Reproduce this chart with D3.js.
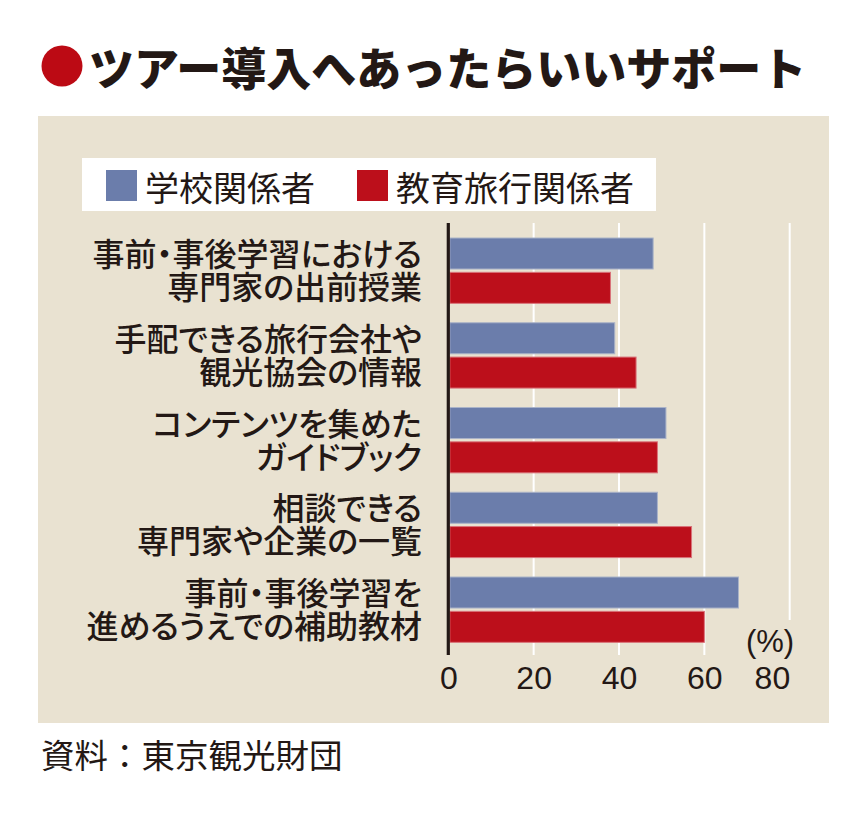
<!DOCTYPE html>
<html>
<head>
<meta charset="utf-8">
<script src="https://cdn.jsdelivr.net/npm/d3@7"></script>
<style>
  html, body { margin: 0; padding: 0; background: #fff; }
  svg { display: block; }
  .jp { font-family: "Noto Sans CJK JP", "Noto Sans", sans-serif; }
  .palt { font-feature-settings: "palt"; }
  .num { font-family: "Liberation Sans", Arial, sans-serif; }
</style>
</head>
<body>
<svg id="chart" width="868" height="813"></svg>
<script>
// ---- data ----
const title = "ツアー導入へあったらいいサポート";
const categories = [
  "事前・事後学習における\n専門家の出前授業",
  "手配できる旅行会社や\n観光協会の情報",
  "コンテンツを集めた\nガイドブック",
  "相談できる\n専門家や企業の一覧",
  "事前・事後学習を\n進めるうえでの補助教材"
];
const seriesNames = ["学校関係者", "教育旅行関係者"];
const schoolValues = [48, 39, 51, 49, 68];
const travelValues = [38, 44, 49, 57, 60];
const tickValues = [0, 20, 40, 60, 80];
const unitLabel = "(%)";
const sourceText = "資料：東京観光財団";

// ---- styles ----
const colors = ["#6b7dab", "#bc0f1b"];
const strokes = ["#aab3c8", "#d9737a"];
const ink = "#231815";
const panelFill = "#e9e2d1";

const svg = d3.select("#chart");
const W = 868, H = 813;
svg.append("rect").attr("width", W).attr("height", H).attr("fill", "#fff");

// title
svg.append("circle").attr("cx", 62).attr("cy", 66).attr("r", 20.5).attr("fill", "#bc0a14");
svg.append("text").attr("class", "jp")
  .attr("x", 89).attr("y", 66)
  .attr("dominant-baseline", "central")
  .attr("font-size", 45).attr("font-weight", 900)
  .attr("fill", ink).text(title);

// panel
svg.append("rect").attr("x", 38).attr("y", 116).attr("width", 791).attr("height", 607)
  .attr("fill", panelFill);

// legend
svg.append("rect").attr("x", 82).attr("y", 158).attr("width", 574).attr("height", 53).attr("fill", "#fff");
const legendX = [106, 357];
seriesNames.forEach((name, i) => {
  svg.append("rect").attr("x", legendX[i]).attr("y", 170).attr("width", 31).attr("height", 31)
    .attr("fill", colors[i]);
  svg.append("text").attr("class", "jp")
    .attr("x", legendX[i] + 39).attr("y", 186)
    .attr("dominant-baseline", "central")
    .attr("font-size", 34).attr("fill", ink).text(name);
});

// scales
const x = d3.scaleLinear().domain([0, 80]).range([448.3, 789.7]);
const step = 84.75, pIn = 0.229;
const y = d3.scaleBand().domain(categories)
  .range([238 - step * pIn / 2, 238 - step * pIn / 2 + step * 5])
  .paddingInner(pIn).paddingOuter(pIn / 2);
const ySub = d3.scaleBand().domain([0, 1]).range([0, y.bandwidth()]).paddingInner(0.096);

const gridTop = 223, gridBottom = 655;

// gridlines
svg.append("g").selectAll("line").data(tickValues.filter(d => d > 0)).join("line")
  .attr("x1", d => x(d)).attr("x2", d => x(d))
  .attr("y1", gridTop)
  .attr("y2", (d, i, arr) => i === arr.length - 1 ? 620 : gridBottom)
  .attr("stroke", "#fff").attr("stroke-width", 2);

// bars
const seriesData = [schoolValues, travelValues];
categories.forEach((cat, ci) => {
  seriesData.forEach((vals, si) => {
    svg.append("rect")
      .attr("x", x(0) + 1.5)
      .attr("y", y(cat) + ySub(si))
      .attr("width", x(vals[ci]) - x(0) - 1.5)
      .attr("height", ySub.bandwidth())
      .attr("fill", colors[si])
      .attr("stroke", strokes[si]).attr("stroke-width", 1);
  });
});

// zero axis line
svg.append("line").attr("x1", x(0)).attr("x2", x(0)).attr("y1", gridTop).attr("y2", gridBottom)
  .attr("stroke", ink).attr("stroke-width", 3.2);

// category labels
categories.forEach(cat => {
  const lines = cat.split("\n");
  const cy = y(cat) + y.bandwidth() / 2 - 2;
  const lh = 33;
  const t = svg.append("text").attr("class", "jp palt")
    .attr("text-anchor", "end").attr("font-size", 32).attr("font-weight", 500)
    .attr("fill", ink);
  lines.forEach((ln, i) => {
    t.append("tspan").attr("x", 422)
      .attr("y", cy + (i - (lines.length - 1) / 2) * lh)
      .attr("dominant-baseline", "central")
      .text(ln);
  });
});

// x tick labels
const axis = d3.axisBottom(x).tickValues(tickValues).tickSize(0).tickPadding(0);
const gAxis = svg.append("g").attr("transform", "translate(0,666)").call(axis);
gAxis.select(".domain").remove();
gAxis.selectAll("text").attr("class", "num")
  .attr("font-size", 32).attr("fill", ink)
  .attr("dy", "0.72em").attr("y", 0)
  .attr("text-anchor", (d, i) => i === tickValues.length - 1 ? "end" : "middle");
gAxis.attr("font-family", null).attr("font-size", null);

// unit label
svg.append("text").attr("class", "num")
  .attr("x", 770).attr("y", 652).attr("text-anchor", "middle")
  .attr("font-size", 31).attr("fill", ink).text(unitLabel);

// source
svg.append("text").attr("class", "jp")
  .attr("x", 41).attr("y", 753).attr("dominant-baseline", "central")
  .attr("font-size", 33.5).attr("fill", ink).text(sourceText);
</script>
</body>
</html>
